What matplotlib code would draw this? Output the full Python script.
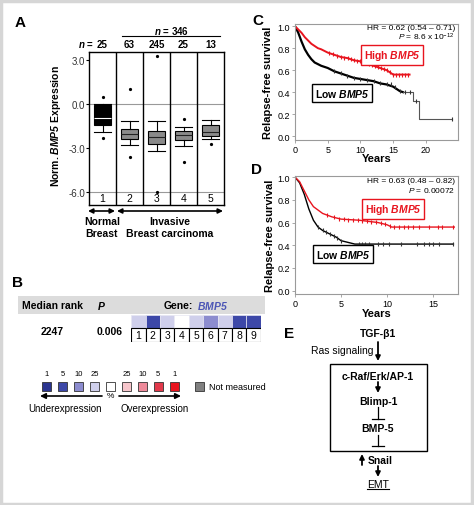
import numpy as np
import matplotlib
matplotlib.use("Agg")
import matplotlib.pyplot as plt
from matplotlib.patches import Rectangle
from matplotlib.transforms import blended_transform_factory

plt.rcParams['font.family'] = ['Liberation Sans', 'DejaVu Sans']
plt.rcParams['mathtext.fontset'] = 'custom'
plt.rcParams['mathtext.rm'] = 'Liberation Sans'
plt.rcParams['mathtext.it'] = 'Liberation Sans:italic'
plt.rcParams['mathtext.bf'] = 'Liberation Sans:bold'
plt.rcParams['mathtext.bfit'] = 'Liberation Sans:bold:italic'

W, H = 474, 506
RED = '#e8141e'

# ---------------- panel A data (box plot)
group_ids = [1, 2, 3, 4, 5]
group_n = ['25', '63', '245', '25', '13']
box_med = [-0.95, -2.05, -2.25, -2.1, -1.9]
box_q1 = [-1.45, -2.4, -2.7, -2.45, -2.2]
box_q3 = [-0.05, -1.7, -1.85, -1.85, -1.45]
box_lo = [-1.9, -2.8, -3.2, -2.9, -2.4]
box_hi = [0.0, -1.15, -1.15, -1.6, -1.1]
box_fliers = [[0.45, -2.3], [1.0, -3.6], [3.3, -6.0], [-1.0, -3.95], [-2.7]]
a_yticks = [3.0, 0.0, -3.0, -6.0]

# ---------------- panel B data (heatmap)
tissues = ['1', '2', '3', '4', '5', '6', '7', '8', '9']
heat_levels = ['u25', 'u5', 'u25', 'none', 'u25', 'u10', 'u25', 'u5', 'u5']
legend_keys = ['u1', 'u5', 'u10', 'u25', 'none', 'o25', 'o10', 'o5', 'o1']
legend_labels = ['1', '5', '10', '25', '', '25', '10', '5', '1']
legend_colors = ['#2b3590', '#3d48a8', '#8c8ccf', '#cfcfeb', '#ffffff',
                 '#f7c6cc', '#ee8a9a', '#e2394b', '#e8141e']
level_color = dict(zip(legend_keys, legend_colors))

# ---------------- panel C data (survival)
c_high_t = [0, 0.5, 1, 1.5, 2, 2.5, 3, 3.5, 4, 5, 6, 7, 8, 9, 10, 11, 12, 13, 14, 14.5, 15, 17.5]
c_high_s = [1.0, 0.97, 0.94, 0.9, 0.87, 0.84, 0.82, 0.8, 0.79, 0.76, 0.74, 0.72, 0.71, 0.69,
            0.68, 0.66, 0.64, 0.62, 0.6, 0.58, 0.56, 0.56]
c_high_cens = [5.2, 5.8, 6.4, 7.0, 7.5, 8.1, 8.6, 9.0, 9.5, 10.0, 10.4, 10.9, 11.3, 11.8,
               12.2, 12.7, 13.1, 13.6, 14.0, 14.5, 15.0, 15.4, 15.9, 16.3, 16.8, 17.2]
c_low_t = [0, 0.5, 1, 1.5, 2, 2.5, 3, 4, 5, 6, 7, 8, 9, 10, 11, 12, 13, 14, 15, 16, 16.5]
c_low_s = [1.0, 0.94, 0.86, 0.79, 0.74, 0.7, 0.67, 0.64, 0.62, 0.59, 0.57, 0.55, 0.53, 0.52,
           0.51, 0.5, 0.48, 0.47, 0.45, 0.41, 0.4]
c_tail_t = [16.5, 18, 19, 24]
c_tail_s = [0.4, 0.32, 0.16, 0.16]
c_low_cens = [6.0, 7.0, 8.0, 9.0, 10.0, 11.0, 12.0, 13.0, 14.0, 14.6, 15.3, 16.0, 16.8, 17.5,
              18.5, 24.0]

# ---------------- panel D data (survival)
d_high_t = [0, 0.5, 1, 1.5, 2, 2.5, 3, 4, 5, 7, 8, 9, 10, 10.5, 17.3]
d_high_s = [1.0, 0.96, 0.88, 0.8, 0.74, 0.71, 0.68, 0.65, 0.63, 0.62, 0.61, 0.6, 0.58, 0.56, 0.56]
d_high_cens = [3.5, 4.2, 4.8, 5.3, 5.8, 6.3, 6.8, 7.3, 7.8, 8.3, 8.8, 9.3, 9.8, 10.3, 10.8,
               11.3, 11.8, 12.3, 12.8, 13.5, 14.5, 15.5, 16.0, 17.2]
d_low_t = [0, 0.5, 1, 1.5, 2, 2.5, 3, 3.5, 4, 4.5, 5, 5.5, 6, 6.5, 17.2]
d_low_s = [1.0, 0.95, 0.85, 0.72, 0.62, 0.56, 0.53, 0.51, 0.49, 0.47, 0.44, 0.43, 0.42, 0.41, 0.41]
d_low_cens = [2.5, 3.0, 3.4, 3.8, 4.2, 4.6, 5.0, 7.0, 7.3, 7.6, 8.0, 9.0, 9.6, 10.2, 11.5,
              13.2, 14.0, 14.5, 15.0, 15.6, 17.2]


def step_at(times, surv, t):
    idx = np.searchsorted(times, t, side='right') - 1
    return np.asarray(surv)[np.clip(idx, 0, len(surv) - 1)]


fig = plt.figure(figsize=(W / 100, H / 100), dpi=100)


def px_axes(l, t, r, b):
    return fig.add_axes([l / W, 1 - b / H, (r - l) / W, (b - t) / H])


# overlay in pixel coordinates for labels / diagram
ov = fig.add_axes([0, 0, 1, 1])
ov.set_xlim(0, W)
ov.set_ylim(H, 0)
ov.axis('off')
ov.set_zorder(10)
ov.add_patch(Rectangle((1.5, 1.5), W - 3, H - 3, fill=False, ec='#d6d6d6', lw=2.5))

# panel letters
for letter, x, y in [('A', 20, 23), ('B', 18, 283), ('C', 258, 21), ('D', 257, 170), ('E', 289, 334)]:
    ov.text(x, y, letter, fontsize=11, fontweight='bold', ha='center', va='center')

# ================= A
axA = px_axes(89, 53, 224, 206)
stats = []
for i in range(len(group_ids)):
    stats.append(dict(med=box_med[i], q1=box_q1[i], q3=box_q3[i],
                      whislo=box_lo[i], whishi=box_hi[i], fliers=box_fliers[i]))
bp = axA.bxp(stats, positions=group_ids, widths=0.65, capwidths=0.65, patch_artist=True,
             boxprops=dict(lw=0.8, edgecolor='black'),
             whiskerprops=dict(lw=0.8), capprops=dict(lw=0.8),
             medianprops=dict(lw=0.8, color='#222222'),
             flierprops=dict(marker='o', markersize=1.3, markerfacecolor='black',
                             markeredgecolor='black'), zorder=3)
for i, box in enumerate(bp['boxes']):
    box.set_facecolor('black' if i == 0 else '#8a8a8a')
bp['medians'][0].set_color('white')
for x in [1.5, 2.5, 3.5, 4.5]:
    axA.axvline(x, color='black', lw=1)
for y in [0.0, -6.0]:
    axA.axhline(y, color='#999999', lw=0.8, zorder=1)
for g in group_ids:
    axA.text(g, -6.45, str(g), ha='center', va='center', fontsize=7.5)
axA.set_xlim(0.5, 5.5)
axA.set_ylim(-6.9, 3.55)
axA.set_xticks([])
axA.set_yticks(a_yticks)
axA.set_yticklabels(['%.1f' % v for v in a_yticks])
axA.tick_params(axis='y', labelsize=7, length=2, pad=1, labelcolor='#333333')
for sp in axA.spines.values():
    sp.set_linewidth(1)
axA.set_ylabel(r'Norm. $\mathbfit{BMP5}$ Expression', fontsize=7.5, fontweight='bold')
axA.yaxis.set_label_coords((63 - 89) / 135, 0.52)
trA = blended_transform_factory(axA.transData, axA.transAxes)
for g, n in zip(group_ids, group_n):
    axA.text(g, 1.055, n, transform=trA, ha='center', va='center', fontsize=7, fontweight='bold')
ov.text(86, 45, r'$\mathbfit{n}$ =', ha='center', va='center', fontsize=7, fontweight='bold')
ov.text(172, 31, r'$\mathbfit{n}$ = 346', ha='center', va='center', fontsize=7, fontweight='bold')
ov.plot([122, 220], [37, 37], color='black', lw=0.8)

arrow2 = dict(arrowstyle='<|-|>', color='black', lw=1.2, mutation_scale=7, shrinkA=0, shrinkB=0)
ov.annotate('', xy=(88, 212), xytext=(115, 212), arrowprops=arrow2)
ov.annotate('', xy=(117, 212), xytext=(223, 212), arrowprops=arrow2)
ov.text(102, 222, 'Normal', ha='center', va='center', fontsize=7.5, fontweight='bold')
ov.text(102, 234, 'Breast', ha='center', va='center', fontsize=7.5, fontweight='bold')
ov.text(170, 222, 'Invasive', ha='center', va='center', fontsize=7.5, fontweight='bold')
ov.text(170, 234, 'Breast carcinoma', ha='center', va='center', fontsize=7.5, fontweight='bold')

# ================= B
ov.add_patch(Rectangle((18, 297), 247, 18, fc='#dcdcdc', ec='none', zorder=0))
ov.text(22, 306, 'Median rank', ha='left', va='center', fontsize=7.5, fontweight='bold')
ov.text(97, 306, r'$\mathbfit{P}$', ha='left', va='center', fontsize=7.5)
ov.text(193, 306, 'Gene:', ha='right', va='center', fontsize=7.5, fontweight='bold')
ov.text(197, 306, r'$\mathbfit{BMP5}$', ha='left', va='center', fontsize=7.5, color='#4b55b5')
ov.text(52, 332, '2247', ha='center', va='center', fontsize=7.5, fontweight='bold')
ov.text(110, 332, '0.006', ha='center', va='center', fontsize=7.5, fontweight='bold')

axB = px_axes(131, 316, 261, 343)
for i, lvl in enumerate(heat_levels):
    axB.add_patch(Rectangle((i, 0), 1, 0.95, fc=level_color[lvl], ec='#e6e6f2', lw=0.5))
    axB.add_patch(Rectangle((i, 0.95), 1, 1.05, fc='white', ec='black', lw=0.8))
    axB.text(i + 0.5, 1.48, tissues[i], ha='center', va='center', fontsize=7.5)
axB.set_xlim(-0.02, 9.02)
axB.set_ylim(2.03, -0.02)
axB.axis('off')

for i, (lab, col) in enumerate(zip(legend_labels, legend_colors)):
    cx = 47 + i * 15.9
    ov.add_patch(Rectangle((cx - 4.5, 383), 9, 9, fc=col, ec='#333333', lw=0.6))
    ov.text(cx, 374, lab, ha='center', va='center', fontsize=5.5)
ov.add_patch(Rectangle((195, 383), 9, 9, fc='#808080', ec='#333333', lw=0.6))
ov.text(209, 387.5, 'Not measured', ha='left', va='center', fontsize=6.5)
arrow1 = dict(arrowstyle='-|>', color='black', lw=1.2, mutation_scale=8, shrinkA=0, shrinkB=0)
ov.annotate('', xy=(40, 397), xytext=(102, 397), arrowprops=arrow1)
ov.annotate('', xy=(181, 397), xytext=(119, 397), arrowprops=arrow1)
ov.text(110, 397, '%', ha='center', va='center', fontsize=6)
ov.text(65, 409, 'Underexpression', ha='center', va='center', fontsize=7)
ov.text(155, 409, 'Overexpression', ha='center', va='center', fontsize=7)


# ================= C / D
def style_km(ax, xmax, xticks, ylo, yhi):
    ax.set_xlim(0, xmax)
    ax.set_ylim(ylo, yhi)
    ax.set_xticks(xticks)
    ax.set_yticks([0.0, 0.2, 0.4, 0.6, 0.8, 1.0])
    ax.set_yticklabels(['0.0', '0.2', '0.4', '0.6', '0.8', '1.0'])
    ax.tick_params(labelsize=6.5, length=2, width=0.6, pad=1.5, color='#999999')
    for sp in ax.spines.values():
        sp.set_color('#9a9a9a')
        sp.set_linewidth(0.8)
    ax.set_ylabel('Relapse-free survival', fontsize=8, fontweight='bold')
    ax.set_xlabel('Years', fontsize=8, fontweight='bold')


axC = px_axes(295, 25, 458, 141)
axC.plot(c_low_t, c_low_s, color='black', lw=1.6)
axC.step(c_tail_t, c_tail_s, where='post', color='#555555', lw=0.8)
c_all_t = c_low_t + c_tail_t[1:]
c_all_s = c_low_s + c_tail_s[1:]
axC.plot(c_low_cens, step_at(c_all_t, c_all_s, c_low_cens), ls='none', marker='|', ms=3,
         color='#333333', mew=0.8)
axC.plot(c_high_t, c_high_s, color=RED, lw=1.4)
axC.plot(c_high_cens, np.interp(c_high_cens, c_high_t, c_high_s), ls='none', marker='|', ms=3,
         color=RED, mew=0.8)
style_km(axC, 24.9, [0, 5, 10, 15, 20], -0.035, 1.02)
axC.yaxis.set_label_coords(-0.135, 0.5)
axC.xaxis.set_label_coords(0.5, -0.112)

axD = px_axes(295, 177, 458, 295)
axD.plot(d_low_t, d_low_s, color='black', lw=1.0)
axD.plot(d_low_cens, np.interp(d_low_cens, d_low_t, d_low_s), ls='none', marker='|', ms=3,
         color='#333333', mew=0.8)
axD.plot(d_high_t, d_high_s, color=RED, lw=1.0)
axD.plot(d_high_cens, np.interp(d_high_cens, d_high_t, d_high_s), ls='none', marker='|', ms=3,
         color=RED, mew=0.8)
style_km(axD, 17.7, [0, 5, 10, 15], -0.03, 1.01)
axD.yaxis.set_label_coords(-0.123, 0.5)
axD.xaxis.set_label_coords(0.5, -0.119)

for y0, hr, p in [(28, 'HR = 0.62 (0.54 \u2013 0.71)', r'$\mathit{P}$ = 8.6 x 10$^{-12}$'),
                  (181, 'HR = 0.63 (0.48 \u2013 0.82)', r'$\mathit{P}$ = 0.00072')]:
    ov.text(455, y0, hr, ha='right', va='center', fontsize=6)
    ov.text(455, y0 + 9, p, ha='right', va='center', fontsize=6)

for x, y, txt, col in [(392, 56, r'High $\mathbfit{BMP5}$', RED), (342, 94, r'Low $\mathbfit{BMP5}$', 'black'),
                       (393, 210, r'High $\mathbfit{BMP5}$', RED), (343, 255, r'Low $\mathbfit{BMP5}$', 'black')]:
    ov.text(x, y, txt, color=col, fontsize=7.5, fontweight='bold', ha='center', va='center',
            bbox=dict(boxstyle='square,pad=0.25', fc='white', ec=col, lw=1))

# ================= E (pathway)
head = dict(arrowstyle='-|>', color='black', lw=1.3, mutation_scale=7, shrinkA=0, shrinkB=0)
fs = 7.5
ov.text(378, 334, 'TGF-\u03b21', ha='center', va='center', fontsize=fs, fontweight='bold')
ov.text(374, 351, 'Ras signaling', ha='right', va='center', fontsize=fs)
ov.annotate('', xy=(378, 362), xytext=(378, 343), arrowprops=head)
ov.add_patch(Rectangle((330, 365), 97, 87, fill=False, ec='black', lw=1))
ov.text(378, 377, 'c-Raf/Erk/AP-1', ha='center', va='center', fontsize=fs, fontweight='bold')
ov.annotate('', xy=(378, 394), xytext=(378, 383), arrowprops=head)
ov.text(378, 402, 'Blimp-1', ha='center', va='center', fontsize=fs, fontweight='bold')
ov.plot([378, 378], [408, 420], color='black', lw=0.9)
ov.plot([372, 384], [420, 420], color='black', lw=0.9)
ov.text(378, 429, 'BMP-5', ha='center', va='center', fontsize=fs, fontweight='bold')
ov.plot([378, 378], [436, 447], color='black', lw=0.9)
ov.plot([372, 384], [447, 447], color='black', lw=0.9)
ov.annotate('', xy=(362, 455), xytext=(362, 466), arrowprops=head)
ov.text(380, 461, 'Snail', ha='center', va='center', fontsize=fs, fontweight='bold')
ov.annotate('', xy=(378, 478), xytext=(378, 467), arrowprops=head)
ov.text(378, 485, 'EMT', ha='center', va='center', fontsize=fs)
ov.plot([367, 389], [490, 490], color='black', lw=0.8)

fig.savefig('out.png', dpi=100)
